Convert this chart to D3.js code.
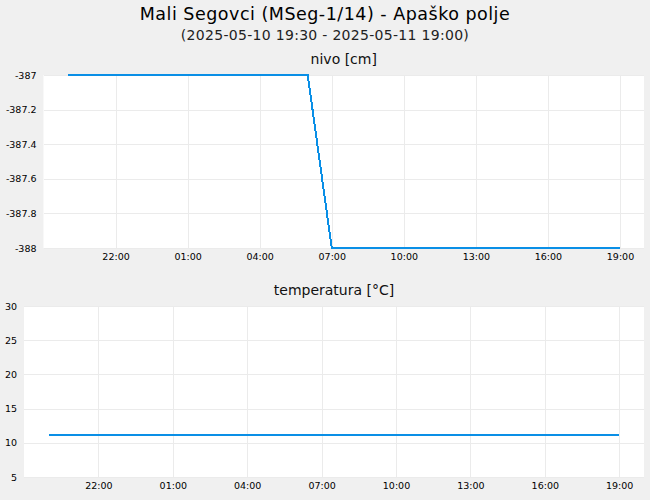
<!DOCTYPE html>
<html><head><meta charset="utf-8">
<script src="https://cdn.jsdelivr.net/npm/d3@7"></script>
<style>
html,body{margin:0;padding:0;background:#f0f0f0;}
svg{display:block;font-family:"DejaVu Sans",sans-serif;}
</style></head>
<body><svg id="c" width="650" height="500"></svg>
<script>
const title = "Mali Segovci (MSeg-1/14) - Apaško polje";
const subtitle = "(2025-05-10 19:30 - 2025-05-11 19:00)";
const times = ["2025-05-10 20:00","2025-05-10 21:00","2025-05-10 22:00","2025-05-10 23:00",
 "2025-05-11 00:00","2025-05-11 01:00","2025-05-11 02:00","2025-05-11 03:00","2025-05-11 04:00",
 "2025-05-11 05:00","2025-05-11 06:00","2025-05-11 07:00","2025-05-11 08:00","2025-05-11 09:00",
 "2025-05-11 10:00","2025-05-11 11:00","2025-05-11 12:00","2025-05-11 13:00","2025-05-11 14:00",
 "2025-05-11 15:00","2025-05-11 16:00","2025-05-11 17:00","2025-05-11 18:00","2025-05-11 19:00"];
const nivo = [-387,-387,-387,-387,-387,-387,-387,-387,-387,-387,-387,
 -388,-388,-388,-388,-388,-388,-388,-388,-388,-388,-388,-388,-388];
const temperatura = [11.1,11.1,11.1,11.1,11.1,11.1,11.1,11.1,11.1,11.1,11.1,11.1,
 11.1,11.1,11.1,11.1,11.1,11.1,11.1,11.1,11.1,11.1,11.1,11.1];
const xTickTimes = ["2025-05-10 22:00","2025-05-11 01:00","2025-05-11 04:00","2025-05-11 07:00",
 "2025-05-11 10:00","2025-05-11 13:00","2025-05-11 16:00","2025-05-11 19:00"];
const xDomain = ["2025-05-10 19:00","2025-05-11 20:00"];
const nivoTicks = [-387,-387.2,-387.4,-387.6,-387.8,-388];
const nivoDomain = [-388,-387];
const tempTicks = [5,10,15,20,25,30];
const tempDomain = [5,30];

const parse = d3.timeParse("%Y-%m-%d %H:%M");
const fmt = d3.timeFormat("%H:%M");
const svg = d3.select("#c");
const lineColor = "#0a8fe6";
const gridColor = "#ebebeb";

svg.append("text").attr("x",325).attr("y",19.5).attr("text-anchor","middle")
  .attr("font-size",17.5).attr("letter-spacing",0.5).attr("fill","#000").text(title);
svg.append("text").attr("x",325).attr("y",39.5).attr("text-anchor","middle")
  .attr("font-size",14).attr("letter-spacing",0.3).attr("fill","#222").text(subtitle);

function panel(cfg){
  const {left,right,top,bottom,values,domain,ticks,label,labelY,tickFmt} = cfg;
  const x = d3.scaleTime().domain(xDomain.map(parse)).range([left,right]);
  const y = d3.scaleLinear().domain(domain).range([bottom,top]);
  const g = svg.append("g");
  g.append("rect").attr("x",left).attr("y",top).attr("width",right-left).attr("height",bottom-top).attr("fill","#fff");
  const xt = xTickTimes.map(parse);
  g.append("g").attr("transform",`translate(0,${top})`)
    .call(d3.axisBottom(x).tickValues(xt).tickSize(bottom-top).tickFormat(""))
    .call(a=>{a.select(".domain").remove(); a.selectAll("line").attr("stroke",gridColor).attr("shape-rendering","crispEdges");});
  g.append("g").attr("transform",`translate(${left},0)`)
    .call(d3.axisRight(y).tickValues(ticks).tickSize(right-left).tickFormat(""))
    .call(a=>{a.select(".domain").remove(); a.selectAll("line").attr("stroke",gridColor).attr("shape-rendering","crispEdges");});
  g.append("g").attr("transform",`translate(0,${bottom})`)
    .call(d3.axisBottom(x).tickValues(xt).tickSize(0).tickPadding(5.5).tickFormat(fmt))
    .call(a=>{a.select(".domain").remove(); a.selectAll("text").attr("font-size",9.5).attr("fill","#000").attr("font-family","DejaVu Sans");});
  g.append("g").attr("transform",`translate(${left},0)`)
    .call(d3.axisLeft(y).tickValues(ticks).tickSize(0).tickPadding(7).tickFormat(tickFmt))
    .call(a=>{a.select(".domain").remove(); a.selectAll("text").attr("font-size",9.5).attr("fill","#000").attr("font-family","DejaVu Sans");});
  const data = times.map((t,i)=>({t:parse(t),v:values[i]}));
  g.append("path").datum(data)
    .attr("fill","none").attr("stroke",lineColor).attr("stroke-width",2)
    .attr("shape-rendering","crispEdges")
    .attr("d",d3.line().x(d=>x(d.t)).y(d=>y(d.v)));
  svg.append("text").attr("x",(left+right)/2).attr("y",labelY).attr("text-anchor","middle")
    .attr("font-size",14).attr("fill","#111").text(label);
}

panel({left:43.5,right:644,top:75,bottom:248,values:nivo,domain:nivoDomain,ticks:nivoTicks,
  label:"nivo [cm]",labelY:64,tickFmt:d=>String(d)});
panel({left:24,right:644,top:306,bottom:477,values:temperatura,domain:tempDomain,ticks:tempTicks,
  label:"temperatura [°C]",labelY:295,tickFmt:d=>String(d)});
</script></body></html>
